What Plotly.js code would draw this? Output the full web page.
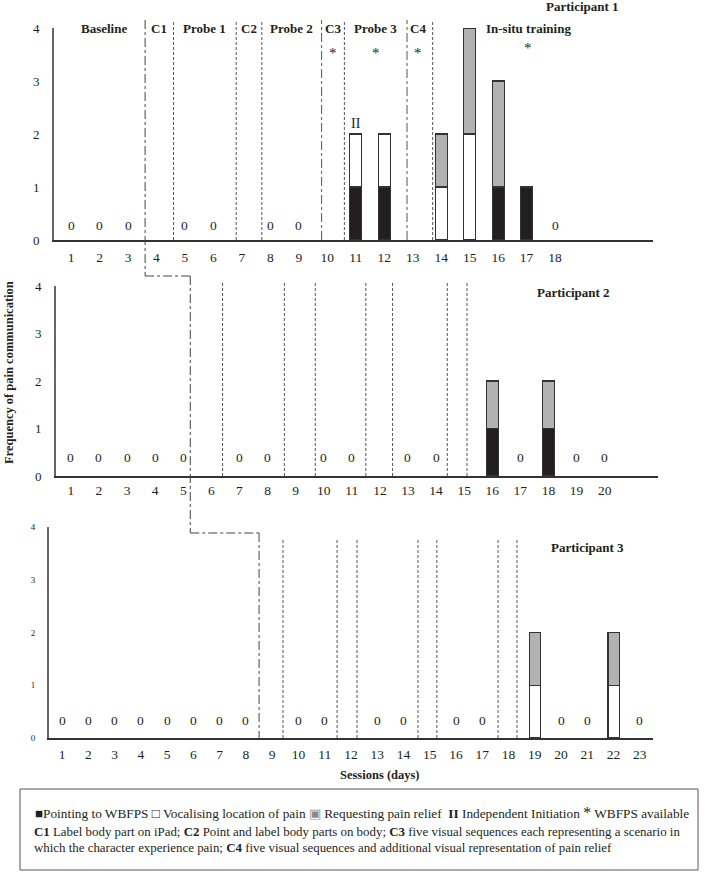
<!DOCTYPE html>
<html>
<head>
<meta charset="utf-8">
<script src="https://cdn.plot.ly/plotly-3.0.1.min.js"></script>
<style>html,body{margin:0;padding:0;background:#fff;}#chart{width:709px;height:872px;}</style>
</head>
<body>
<div id="chart"></div>
<script>
// ---------------- DATA ----------------
const p1Sessions = [1,2,3,4,5,6,7,8,9,10,11,12,13,14,15,16,17,18];
const p1Pointing = [0,0,0,0,0,0,0,0,0,0,1,1,0,0,0,1,1,0];
const p1Vocal    = [0,0,0,0,0,0,0,0,0,0,1,1,0,1,2,0,0,0];
const p1Request  = [0,0,0,0,0,0,0,0,0,0,0,0,0,1,2,2,0,0];
const p1Zeros    = [1,2,3,5,6,8,9,18];

const p2Sessions = [1,2,3,4,5,6,7,8,9,10,11,12,13,14,15,16,17,18,19,20];
const p2Pointing = [0,0,0,0,0,0,0,0,0,0,0,0,0,0,0,1,0,1,0,0];
const p2Vocal    = [0,0,0,0,0,0,0,0,0,0,0,0,0,0,0,0,0,0,0,0];
const p2Request  = [0,0,0,0,0,0,0,0,0,0,0,0,0,0,0,1,0,1,0,0];
const p2Zeros    = [1,2,3,4,5,7,8,10,11,13,14,17,19,20];

const p3Sessions = [1,2,3,4,5,6,7,8,9,10,11,12,13,14,15,16,17,18,19,20,21,22,23];
const p3Pointing = [0,0,0,0,0,0,0,0,0,0,0,0,0,0,0,0,0,0,0,0,0,0,0];
const p3Vocal    = [0,0,0,0,0,0,0,0,0,0,0,0,0,0,0,0,0,0,1,0,0,1,0];
const p3Request  = [0,0,0,0,0,0,0,0,0,0,0,0,0,0,0,0,0,0,1,0,0,1,0];
const p3Zeros    = [1,2,3,4,5,6,7,8,10,11,13,14,16,17,20,21,23];

// phase change lines (session positions)
const p1Bounds = [3.6, 4.6, 6.8, 7.7, 9.8, 10.6, 12.8, 13.7];
const p2Bounds = [5.25, 6.4, 8.6, 9.7, 11.5, 12.45, 14.4, 15.1];
const p3Bounds = [8.5, 9.41, 11.47, 12.23, 14.55, 15.27, 17.6, 18.32];

const phaseNames   = ["Baseline","C1","Probe 1","C2","Probe 2","C3","Probe 3","C4","In-situ training"];
const phaseCenters = [2.15, 4.1, 5.7, 7.25, 8.75, 10.2, 11.7, 13.2, 17.05];
const wbfpsPhases  = ["C3","Probe 3","C4","In-situ training"];
const independentSessions = [11];

const seriesNames = ["Pointing to WBFPS","Vocalising location of pain","Requesting pain relief"];
const seriesColors = ["#231f20","#ffffff","#b2b2b2"];

// ---------------- LAYOUT HELPERS ----------------
const W = 709, H = 872;
const FONT = "Liberation Serif, Times New Roman, serif";
const TXT = "#231f20";
const px = v => v / W;           // pixel x -> paper
const py = v => 1 - v / H;       // pixel y -> paper
const DASH = "3px,2px";

const panels = [
  {sessions:p1Sessions, series:[p1Pointing,p1Vocal,p1Request], zeros:p1Zeros, bounds:p1Bounds,
   xdom:[54,653], ytop:28, ybot:240, xr:[0.4,21.44], lineTop:20, zeroY:0.28, ytick:13, standoff:4,
   dash:["dashdot",DASH,DASH,DASH,"dashdot",DASH,"dashdot",DASH], label:"Participant 1", labelX:582, labelY:7},
  {sessions:p2Sessions, series:[p2Pointing,p2Vocal,p2Request], zeros:p2Zeros, bounds:p2Bounds,
   xdom:[56,658], ytop:286, ybot:476, xr:[0.47,21.9], lineTop:283, zeroY:0.4, ytick:13, standoff:1,
   dash:["dashdot",DASH,DASH,DASH,DASH,DASH,DASH,DASH], label:"Participant 2", labelX:573, labelY:292},
  {sessions:p3Sessions, series:[p3Pointing,p3Vocal,p3Request], zeros:p3Zeros, bounds:p3Bounds,
   xdom:[49,653], ytop:527, ybot:738, xr:[0.5,23.5], lineTop:538, zeroY:0.34, ytick:9, standoff:3,
   dash:["dashdot",DASH,DASH,DASH,DASH,DASH,DASH,DASH], label:"Participant 3", labelX:587, labelY:547}
];

function dataToPaperX(p, v){
  const f = (v - p.xr[0]) / (p.xr[1] - p.xr[0]);
  return px(p.xdom[0] + f * (p.xdom[1] - p.xdom[0]));
}

const traces = [];
const shapes = [];
const annotations = [];
function note(o){ annotations.push(Object.assign({showarrow:false, xanchor:"center", yanchor:"middle"}, o)); }

const layout = {
  width: W, height: H,
  margin: {l:0, r:0, t:0, b:0, pad:0},
  paper_bgcolor: "#fff", plot_bgcolor: "rgba(0,0,0,0)",
  barmode: "stack", bargap: 0,
  showlegend: false,
  font: {family: FONT, color: TXT, size: 13}
};

panels.forEach((p, i) => {
  const n = i === 0 ? "" : String(i + 1);
  const xa = "x" + n, ya = "y" + n;
  p.series.forEach((vals, s) => {
    traces.push({
      type: "bar", name: seriesNames[s], x: p.sessions,
      y: vals.map(v => v === 0 ? null : v),
      xaxis: xa, yaxis: ya, width: 0.42,
      marker: {color: seriesColors[s], line: {color: "#333", width: 1.2}},
      hoverinfo: "x+y+name"
    });
  });
  layout["xaxis" + n] = {
    domain: [px(p.xdom[0]), px(p.xdom[1])], range: p.xr, anchor: ya,
    tickmode: "array", tickvals: p.sessions, ticktext: p.sessions.map(String),
    showgrid: false, zeroline: false, showline: true, linecolor: "#333", linewidth: 1.5,
    ticks: "", ticklabelstandoff: p.standoff, tickfont: {family: FONT, size: 13.5, color: TXT}, fixedrange: true
  };
  layout["yaxis" + n] = {
    domain: [py(p.ybot), py(p.ytop)], range: [0, 4], anchor: xa,
    tickvals: [0,1,2,3,4], showgrid: false, zeroline: false, showline: true,
    linecolor: "#666", linewidth: 2, ticks: "", ticklabelstandoff: 10,
    tickfont: {family: FONT, size: p.ytick, color: TXT}, fixedrange: true
  };
  // phase lines
  p.bounds.forEach((b, k) => {
    if (k === 0) return; // first boundary drawn as staircase below
    shapes.push({type:"line", xref:xa, yref:"paper", x0:b, x1:b,
      y0:py(p.ybot), y1:py(p.lineTop), line:{color:"#555", width:1, dash:p.dash[k]}});
  });
  // zero labels
  p.zeros.forEach(z => note({xref:xa, yref:ya, x:z, y:p.zeroY, text:"0",
    font:{family:FONT, size:13.5, color:TXT}}));
  // participant label
  note({xref:"paper", yref:"paper", x:px(p.labelX), y:py(p.labelY), text:"<b>"+p.label+"</b>",
    font:{family:FONT, size:13, color:TXT}});
});

// staircase (multiple-baseline) dash-dot line
const sc = {color:"#444", width:1, dash:"dashdot"};
const b1 = dataToPaperX(panels[0], p1Bounds[0]);
const b2 = dataToPaperX(panels[1], p2Bounds[0]);
const b3 = dataToPaperX(panels[2], p3Bounds[0]);
shapes.push({type:"line", xref:"paper", yref:"paper", x0:b1, x1:b1, y0:py(20), y1:py(276), line:sc});
shapes.push({type:"line", xref:"paper", yref:"paper", x0:b1, x1:b2, y0:py(276), y1:py(276), line:sc});
shapes.push({type:"line", xref:"paper", yref:"paper", x0:b2, x1:b2, y0:py(276), y1:py(533), line:sc});
shapes.push({type:"line", xref:"paper", yref:"paper", x0:b2, x1:b3, y0:py(533), y1:py(533), line:sc});
shapes.push({type:"line", xref:"paper", yref:"paper", x0:b3, x1:b3, y0:py(533), y1:py(738), line:sc});

// phase names (participant 1)
phaseNames.forEach((nm, k) => note({xref:"x", yref:"paper", x:phaseCenters[k], y:py(29),
  text:"<b>"+nm+"</b>", font:{family:FONT, size:13, color:TXT}}));
// WBFPS available asterisks
wbfpsPhases.forEach(nm => {
  const k = phaseNames.indexOf(nm);
  note({xref:"x", yref:"paper", x:phaseCenters[k], y:py(k === 8 ? 48 : 53), text:"*",
    font:{family:FONT, size:15, color:TXT}});
});
// independent initiation
independentSessions.forEach(s => {
  const idx = p1Sessions.indexOf(s);
  const tot = p1Pointing[idx] + p1Vocal[idx] + p1Request[idx];
  note({xref:"x", yref:"y", x:s, y:tot, yanchor:"bottom", yshift:1, text:"II",
    font:{family:FONT, size:14, color:TXT}});
});

// axis titles
note({xref:"paper", yref:"paper", x:px(9), y:py(373), text:"<b>Frequency of pain communication</b>",
  textangle:-90, font:{family:FONT, size:12.5, color:TXT}});
note({xref:"paper", yref:"paper", x:px(380), y:py(775), text:"<b>Sessions (days)</b>",
  font:{family:FONT, size:12.5, color:TXT}});

// legend box
shapes.push({type:"rect", xref:"paper", yref:"paper", x0:px(20), x1:px(698), y0:py(870), y1:py(789),
  line:{color:"#555", width:1}, fillcolor:"rgba(0,0,0,0)"});
const legendLine =
  "<span style='color:#231f20'>■</span>" + seriesNames[0] +
  " □ " + seriesNames[1] +
  " <span style='color:#8a8a8a'>▣</span> " + seriesNames[2] +
  "  <b>II</b> Independent Initiation <span style='font-size:16px'>*</span> WBFPS available";
note({xref:"paper", yref:"paper", x:px(362), y:py(812), text:legendLine,
  font:{family:FONT, size:13.3, color:TXT}});
note({xref:"paper", yref:"paper", x:px(32), y:py(832), xanchor:"left",
  text:"<b>C1</b> Label body part on iPad; <b>C2</b> Point and label body parts on body; <b>C3</b> five visual sequences each representing a scenario in",
  font:{family:FONT, size:12.9, color:TXT}});
note({xref:"paper", yref:"paper", x:px(32), y:py(848), xanchor:"left",
  text:"which the character experience pain; <b>C4</b> five visual sequences and additional visual representation of pain relief",
  font:{family:FONT, size:12.9, color:TXT}});

layout.shapes = shapes;
layout.annotations = annotations;

Plotly.newPlot("chart", traces, layout, {displayModeBar:false, staticPlot:true});
</script>
</body>
</html>
